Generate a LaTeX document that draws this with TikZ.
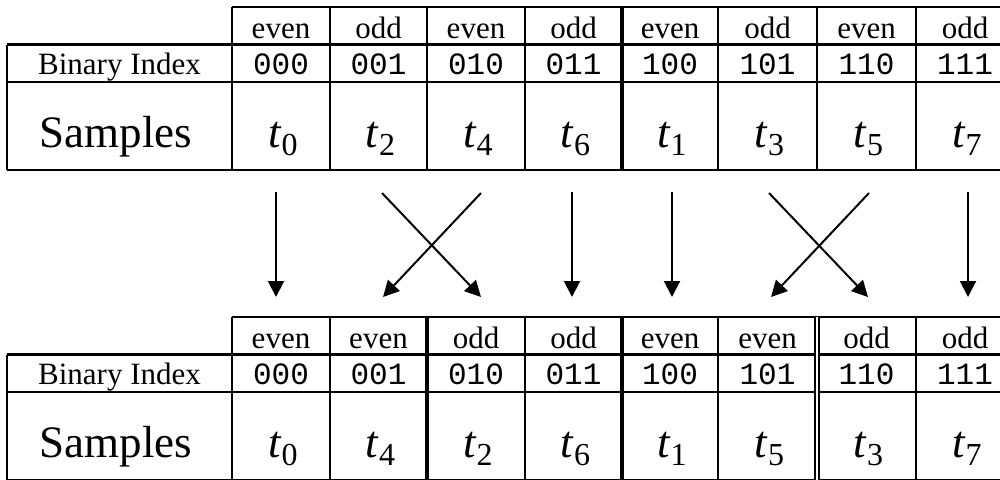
\documentclass[tikz,border=0pt]{standalone}
\usepackage{fontspec}
\setmainfont{Liberation Serif}
\setmonofont{Liberation Mono}
\usetikzlibrary{arrows.meta}
\newcommand\tsmp[1]{\textit{t}\raisebox{-8pt}{\fontsize{32}{32}\selectfont #1}}
\begin{document}
\begin{tikzpicture}[x=1pt,y=-1pt,
  gridline/.style={line width=2.2pt},
  thickline/.style={line width=4pt},
  dblline/.style={double, double distance=2.4pt, line width=1.4pt},
  hdr/.style={anchor=base, inner sep=0pt, font=\fontsize{31}{31}\selectfont},
  bin/.style={anchor=base, inner sep=0pt, font=\fontsize{31}{31}\selectfont\ttfamily},
  big/.style={anchor=base, inner sep=0pt, font=\fontsize{45}{45}\selectfont},
  arr/.style={line width=2pt, -{Triangle[length=16pt,width=16pt]}}]
\useasboundingbox (0,0) rectangle (1000,479);
\clip (0,0) rectangle (1000,479);

% ---------- top table ----------
\draw[gridline] (232,7.3) -- (1014,7.3);
\draw[gridline] (7.3,44.5) -- (1014,44.5);
\draw[gridline] (7.3,82) -- (1014,82);
\draw[gridline] (7.3,170) -- (1014,170);
\draw[gridline] (7.3,44.5) -- (7.3,170);
\foreach \x in {232,330,427,525,718,817,916,1014}
  \draw[gridline] (\x,7.3) -- (\x,170);
\draw[thickline] (622,7.3) -- (622,170);

\node[hdr] (th1) at (281,38) {even};
\node[hdr] (th2) at (378.5,38) {odd};
\node[hdr] (th3) at (476,38) {even};
\node[hdr] (th4) at (573.5,38) {odd};
\node[hdr] (th5) at (670,38) {even};
\node[hdr] (th6) at (767.5,38) {odd};
\node[hdr] (th7) at (866.5,38) {even};
\node[hdr] (th8) at (965,38) {odd};

\node[hdr] (tbl) at (119.5,74) {Binary Index};
\node[bin] (tb1) at (281,74) {000};
\node[bin] (tb2) at (378.5,74) {001};
\node[bin] (tb3) at (476,74) {010};
\node[bin] (tb4) at (573.5,74) {011};
\node[bin] (tb5) at (670,74) {100};
\node[bin] (tb6) at (767.5,74) {101};
\node[bin] (tb7) at (866.5,74) {110};
\node[bin] (tb8) at (965,74) {111};

\node[big] (tsl) at (116,147) {Samples};
\node[big] (ts1) at (283,147) {\tsmp{0}};
\node[big] (ts2) at (380.5,147) {\tsmp{2}};
\node[big] (ts3) at (478,147) {\tsmp{4}};
\node[big] (ts4) at (575.5,147) {\tsmp{6}};
\node[big] (ts5) at (672,147) {\tsmp{1}};
\node[big] (ts6) at (769.5,147) {\tsmp{3}};
\node[big] (ts7) at (868.5,147) {\tsmp{5}};
\node[big] (ts8) at (967,147) {\tsmp{7}};

% ---------- arrows ----------
\coordinate (a1s) at (276,192);   \coordinate (a1e) at (276,297);
\coordinate (a2s) at (382,193);   \coordinate (a2e) at (481,297);
\coordinate (a3s) at (481,193);   \coordinate (a3e) at (383,297);
\coordinate (a4s) at (572,192);   \coordinate (a4e) at (572,297);
\coordinate (a5s) at (672,192);   \coordinate (a5e) at (672,297);
\coordinate (a6s) at (769,193);   \coordinate (a6e) at (868,297);
\coordinate (a7s) at (869,193);   \coordinate (a7e) at (771,297);
\coordinate (a8s) at (968,192);   \coordinate (a8e) at (968,297);
\foreach \i in {1,...,8} \draw[arr] (a\i s) -- (a\i e);

% ---------- bottom table ----------
\begin{scope}[shift={(0,310)}]
\draw[gridline] (232,7.3) -- (1014,7.3);
\draw[gridline] (7.3,44.5) -- (1014,44.5);
\draw[gridline] (7.3,82) -- (1014,82);
\draw[gridline] (7.3,170) -- (1014,170);
\draw[gridline] (7.3,44.5) -- (7.3,175);
\foreach \x in {232,330,525,718,916,1014}
  \draw[gridline] (\x,7.3) -- (\x,175);
\draw[thickline] (427,7.3) -- (427,175);
\draw[thickline] (622,7.3) -- (622,175);
\draw[dblline] (817,7.3) -- (817,175);

\node[hdr] (bh1) at (281,38) {even};
\node[hdr] (bh2) at (378.5,38) {even};
\node[hdr] (bh3) at (476,38) {odd};
\node[hdr] (bh4) at (573.5,38) {odd};
\node[hdr] (bh5) at (670,38) {even};
\node[hdr] (bh6) at (767.5,38) {even};
\node[hdr] (bh7) at (866.5,38) {odd};
\node[hdr] (bh8) at (965,38) {odd};

\node[hdr] (bbl) at (119.5,74) {Binary Index};
\node[bin] (bb1) at (281,74) {000};
\node[bin] (bb2) at (378.5,74) {001};
\node[bin] (bb3) at (476,74) {010};
\node[bin] (bb4) at (573.5,74) {011};
\node[bin] (bb5) at (670,74) {100};
\node[bin] (bb6) at (767.5,74) {101};
\node[bin] (bb7) at (866.5,74) {110};
\node[bin] (bb8) at (965,74) {111};

\node[big] (bsl) at (116,147) {Samples};
\node[big] (bs1) at (283,147) {\tsmp{0}};
\node[big] (bs2) at (380.5,147) {\tsmp{4}};
\node[big] (bs3) at (478,147) {\tsmp{2}};
\node[big] (bs4) at (575.5,147) {\tsmp{6}};
\node[big] (bs5) at (672,147) {\tsmp{1}};
\node[big] (bs6) at (769.5,147) {\tsmp{5}};
\node[big] (bs7) at (868.5,147) {\tsmp{3}};
\node[big] (bs8) at (967,147) {\tsmp{7}};
\end{scope}
\end{tikzpicture}
\end{document}
